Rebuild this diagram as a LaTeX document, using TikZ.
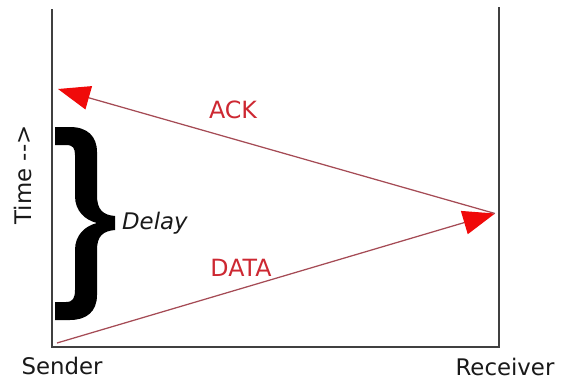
\documentclass[tikz,border=0pt]{standalone}
\usepackage{fontspec}
\setmainfont{DejaVu Sans}
\usetikzlibrary{arrows.meta}
\definecolor{msgline}{RGB}{165,75,85}
\definecolor{msgtext}{RGB}{205,40,50}
\definecolor{tipred}{RGB}{240,10,10}

\begin{document}
\begin{tikzpicture} [xscale=.2, yscale=-.2,
  axis/.style={black!75, line width=.3mm},
  msg/.style={msgline, line width=.25mm, -{Triangle[length=6.4mm, width=4.8mm, color=tipred]}},
  lbl/.style={font=\fontsize{13}{15}\selectfont, text=black!90, inner sep=1pt},
  msglbl/.style={font=\fontsize{13.5}{15}\selectfont, text=msgtext}]
\useasboundingbox (0,0) rectangle (56.9,38.1);

\coordinate (sndtop) at (5.2,0.9);
\coordinate (sndbot) at (5.2,34.7);
\coordinate (rcvtop) at (49.9,0.7);
\coordinate (rcvbot) at (49.9,34.7);
\draw[axis] (sndtop) -- (sndbot) -- (rcvbot) -- (rcvtop);

\coordinate (datafrom) at (5.7,34.3);
\coordinate (datato) at (49.5,21.35);
\coordinate (ackto) at (5.8,8.9);
\draw[msg] (datafrom) -- (datato);
\draw[msg] (datato) -- (ackto);

\node[msglbl] (ack) at (23.3,11.0) {ACK};
\node[msglbl] (data) at (24.1,26.8) {DATA};

\fill[black] (5.5,12.7) -- (7.0,12.7) .. controls (8.7,12.7) and (9.7,13.6) .. (9.7,15.2)
  -- (9.7,19.5) .. controls (9.7,21.0) and (10.3,21.5) .. (11.5,21.6)
  -- (11.5,23.0) .. controls (10.3,23.1) and (9.7,23.6) .. (9.7,25.0)
  -- (9.7,29.5) .. controls (9.7,31.2) and (8.6,32.0) .. (7.0,32.0)
  -- (5.5,32.0) -- (5.5,30.2) -- (6.6,30.2) .. controls (7.3,30.2) and (7.5,29.8) .. (7.5,29.0)
  -- (7.5,25.0) .. controls (7.5,23.5) and (8.5,22.6) .. (9.7,22.3)
  .. controls (8.5,22.0) and (7.5,21.1) .. (7.5,19.6)
  -- (7.5,15.5) .. controls (7.5,14.8) and (7.3,14.5) .. (6.6,14.5)
  -- (5.5,14.5) -- cycle;
\node[lbl, anchor=west] (delay) at (12.0,22.3) {\itshape Delay};

\node[lbl, rotate=90] (time) at (2.3,17.5) {Time -{}->};
\node[lbl] (sender) at (6.2,36.6) {Sender};
\node[lbl] (receiver) at (50.5,36.7) {Receiver};
\end{tikzpicture}
\end{document}
